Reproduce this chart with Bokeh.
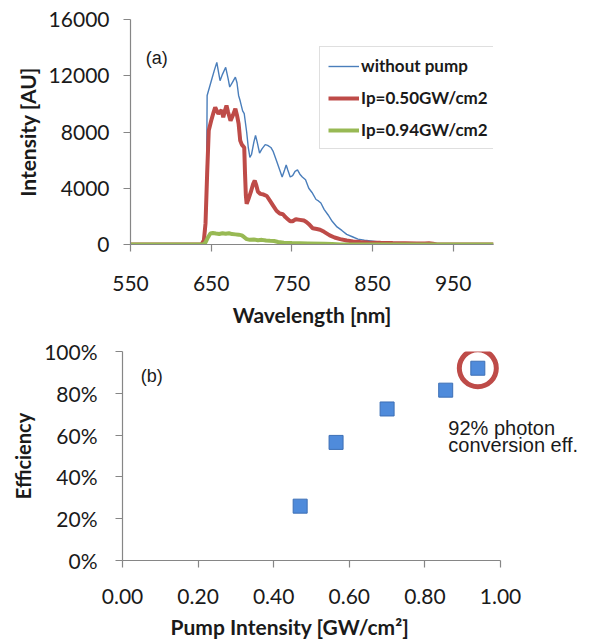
from bokeh.plotting import figure
from bokeh.models import (Legend, LegendItem, Label, FixedTicker, Title,
                          NumeralTickFormatter, Range1d)
from bokeh.embed import file_html
from bokeh.resources import INLINE

# ---------------- data: (a) spectra ----------------
wl_nopump = [550, 600, 638, 642, 644, 645, 648, 651, 654, 657, 659, 661, 664, 668, 671,
             673, 676, 680, 682, 684, 686, 689, 691, 694, 696, 698, 700, 703, 705, 707,
             710, 713, 717, 720, 724, 727, 731, 735, 738, 741, 743, 745, 748, 751, 754,
             757, 760, 763, 767, 771, 775, 780, 783, 786, 790, 795, 800, 806, 812, 818,
             825, 832, 840, 848, 858, 870, 880, 900, 950, 1000]
int_nopump = [0, 0, 0, 150, 2000, 10600, 11200, 11800, 12400, 12950, 12300, 11650, 12100,
              12600, 11800, 11200, 11500, 11900, 11500, 10600, 10200, 9500, 9300, 8000,
              6900, 6200, 6400, 7300, 7750, 7300, 6500, 6800, 7100, 7050, 6900, 6600, 5950,
              5300, 4800, 5300, 5650, 5300, 4800, 4900, 5200, 5300, 5000, 4800, 4600, 4000,
              3700, 3200, 3100, 2950, 2500, 2100, 1650, 1250, 1000, 720, 550, 380, 300, 250,
              180, 100, 50, 20, 0, 0]

wl_p050 = [550, 600, 638, 641, 643, 645, 647, 650, 653, 655, 657, 659, 661, 663, 665, 667,
           669, 671, 674, 677, 680, 682, 684, 686, 688, 691, 692, 693, 694, 696, 699, 702,
           704, 706, 708, 711, 715, 719, 723, 727, 731, 735, 739, 742, 745, 748, 751, 755,
           760, 765, 768, 772, 776, 781, 785, 790, 797, 803, 810, 818, 826, 835, 845, 860,
           875, 890, 905, 915, 920, 925, 930, 1000]
int_p050 = [0, 0, 0, 300, 1500, 5000, 8100, 8800, 9400, 9760, 9500, 9300, 9450, 9550, 9050,
            9500, 9880, 9400, 8800, 9200, 9650, 9200, 8600, 7400, 7100, 6900, 5000, 3500,
            2900, 3200, 3700, 4300, 4550, 4200, 3750, 3600, 3550, 3450, 3100, 2750, 2400,
            2200, 2150, 1950, 1800, 1650, 1650, 1800, 1750, 1700, 1600, 1400, 1150, 1100,
            1050, 900, 650, 500, 380, 280, 220, 180, 150, 120, 100, 90, 80, 70, 90, 60, 0, 0]

wl_p094 = [550, 600, 640, 643, 646, 649, 652, 656, 660, 664, 668, 672, 676, 680, 684, 688,
           691, 694, 698, 703, 708, 713, 718, 723, 728, 733, 740, 750, 770, 790, 800, 810,
           1000]
int_p094 = [0, 0, 0, 150, 500, 780, 820, 780, 750, 800, 760, 800, 740, 720, 700, 650, 520,
            380, 330, 350, 300, 330, 280, 260, 250, 180, 120, 100, 80, 60, 40, 0, 0]

series_names = ["without pump", "Ip=0.50GW/cm2", "Ip=0.94GW/cm2"]
y_ticks_a = [0, 4000, 8000, 12000, 16000]
x_ticks_a = [550, 650, 750, 850, 950]

# ---------------- data: (b) efficiency ----------------
pump_intensity = [0.47, 0.565, 0.70, 0.855, 0.94]
efficiency = [0.26, 0.565, 0.725, 0.815, 0.92]
x_ticks_b = [0.0, 0.2, 0.4, 0.6, 0.8, 1.0]
y_ticks_b = [0.0, 0.2, 0.4, 0.6, 0.8, 1.0]

AXIS = "#868686"
TXT = "#1a1a1a"
FONT = "Lato"


def style_axes(p, tick_size, title_size, y_label_standoff, x_label_standoff,
               y_title_standoff, x_title_standoff):
    p.grid.visible = False
    p.outline_line_color = None
    for ax in (p.xaxis[0], p.yaxis[0]):
        ax.axis_line_color = AXIS
        ax.axis_line_width = 1.2
        ax.major_tick_line_color = AXIS
        ax.major_tick_line_width = 1.2
        ax.major_tick_out = 7
        ax.major_tick_in = 0
        ax.minor_tick_line_color = None
        ax.major_label_text_font = FONT
        ax.major_label_text_font_size = tick_size
        ax.major_label_text_color = TXT
        ax.axis_label_text_font = FONT
        ax.axis_label_text_font_style = "bold"
        ax.axis_label_text_font_size = title_size
        ax.axis_label_text_color = TXT
    p.yaxis[0].major_label_standoff = y_label_standoff
    p.xaxis[0].major_label_standoff = x_label_standoff
    p.yaxis[0].axis_label_standoff = y_title_standoff
    p.xaxis[0].axis_label_standoff = x_title_standoff


# ---------------- figure (a) ----------------
p1 = figure(width=589, height=330, output_backend="svg", toolbar_location=None,
            x_range=Range1d(550, 1000), y_range=Range1d(0, 16000),
            min_border_left=130, min_border_right=96, min_border_top=19,
            min_border_bottom=86, background_fill_color="white")
p1.xaxis.axis_label = "Wavelength [nm]"
p1.yaxis.axis_label = "Intensity [AU]"
p1.xaxis.ticker = FixedTicker(ticks=x_ticks_a)
p1.yaxis.ticker = FixedTicker(ticks=y_ticks_a)
style_axes(p1, "21px", "21px", 14, 24, 6, 8)

r_blue = p1.line(wl_nopump, int_nopump, line_color="#4A7EBB", line_width=1.4)
r_red = p1.line(wl_p050, int_p050, line_color="#BE4B48", line_width=4)
r_green = p1.line(wl_p094, int_p094, line_color="#98B954", line_width=4)

legend = Legend(items=[LegendItem(label=series_names[0], renderers=[r_blue]),
                       LegendItem(label=series_names[1], renderers=[r_red]),
                       LegendItem(label=series_names[2], renderers=[r_green])],
                location=(189, 95), margin=0, padding=8, spacing=11,
                glyph_width=31, glyph_height=20, label_height=20, label_standoff=2,
                label_width=124,
                label_text_font=FONT, label_text_font_style="bold",
                label_text_font_size="17px", label_text_color=TXT,
                border_line_color="#BFBFBF", border_line_width=1.5,
                background_fill_color="white", background_fill_alpha=1.0)
p1.add_layout(legend, "center")

p1.add_layout(Label(x=569, y=13230, text="(a)", text_baseline="middle",
                    text_font="Liberation Sans", text_font_size="18px", text_color=TXT))

# ---------------- figure (b) ----------------
# frame reaches the right edge so the annotation is not clipped; the axis
# line itself is bounded to 0..1
x_end_b = 1.0 + 89.0 / 378.0
p2 = figure(width=589, height=314, output_backend="svg", toolbar_location=None,
            x_range=Range1d(0, x_end_b), y_range=Range1d(0, 1),
            min_border_left=122, min_border_right=0, min_border_top=21,
            min_border_bottom=83, background_fill_color="white")
p2.yaxis.axis_label = "Efficiency"
p2.xaxis.ticker = FixedTicker(ticks=x_ticks_b)
p2.yaxis.ticker = FixedTicker(ticks=y_ticks_b)
p2.xaxis.bounds = (0, 1)
p2.xaxis.formatter = NumeralTickFormatter(format="0.00")
p2.yaxis.formatter = NumeralTickFormatter(format="0%")
style_axes(p2, "21px", "20px", 18, 21, 6, 6)

p2.add_layout(Title(text="Pump Intensity [GW/cm\u00b2]", align="left", offset=48,
                    standoff=11, text_font=FONT, text_font_style="bold",
                    text_font_size="21px", text_color=TXT), "below")

p2.scatter(pump_intensity, efficiency, marker="square", size=14,
           fill_color="#4F8BDB", line_color="#3D6FB5", line_width=1)
p2.scatter([pump_intensity[-1]], [efficiency[-1]], marker="circle", size=37,
           fill_color=None, line_color="#BE4B48", line_width=5)

p2.add_layout(Label(x=0.048, y=0.885, text="(b)", text_baseline="middle",
                    text_font="Liberation Sans", text_font_size="18px", text_color=TXT))
p2.add_layout(Label(x=0.862, y=0.633, text="92% photon", text_baseline="middle",
                    text_font="Liberation Sans", text_font_size="20px", text_color=TXT))
p2.add_layout(Label(x=0.862, y=0.552, text="conversion eff.", text_baseline="middle",
                    text_font="Liberation Sans", text_font_size="20px", text_color=TXT))

open("out.html", "w").write(file_html([p1, p2], INLINE))
